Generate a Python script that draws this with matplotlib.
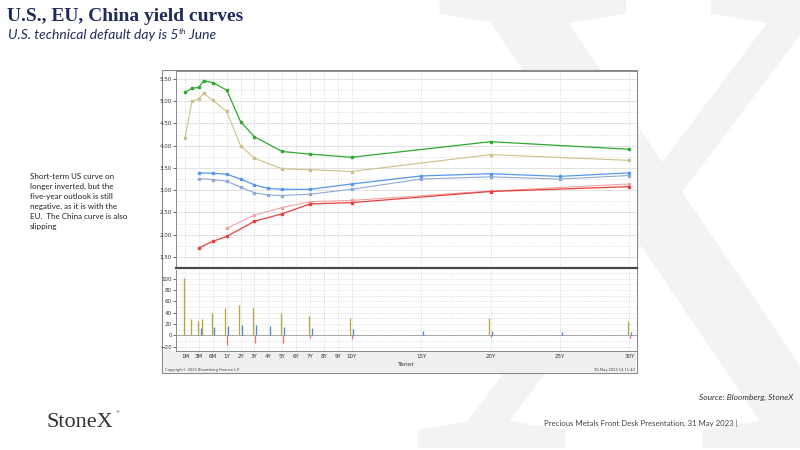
import numpy as np
import matplotlib
matplotlib.use('Agg')
import matplotlib.pyplot as plt
import matplotlib.transforms as mtransforms
from matplotlib.patches import Rectangle, PathPatch
from matplotlib.transforms import offset_copy
from matplotlib.textpath import TextPath
from matplotlib.font_manager import FontProperties
from matplotlib.ticker import FormatStrFormatter

# tenor axis
tenor_labels = ['1M', '3M', '6M', '1Y', '2Y', '3Y', '4Y', '5Y', '6Y', '7Y', '8Y', '9Y', '10Y',
                '15Y', '20Y', '25Y', '30Y']
tenor_years = [1/12, 3/12, 6/12, 1, 2, 3, 4, 5, 6, 7, 8, 9, 10, 15, 20, 25, 30]

# yield curves (%)
us_years = [1/12, 2/12, 3/12, 4/12, 6/12, 1, 2, 3, 5, 7, 10, 20, 30]
us_now = [5.20, 5.29, 5.31, 5.46, 5.42, 5.25, 4.54, 4.20, 3.87, 3.81, 3.74, 4.09, 3.92]
us_prev = [4.18, 5.00, 5.06, 5.18, 5.02, 4.77, 4.00, 3.72, 3.48, 3.46, 3.42, 3.80, 3.67]

eu_years = [3/12, 6/12, 1, 2, 3, 4, 5, 7, 10, 15, 20, 25, 30]
eu_now = [3.39, 3.38, 3.36, 3.25, 3.12, 3.04, 3.02, 3.02, 3.14, 3.32, 3.37, 3.31, 3.39]
eu_prev = [3.26, 3.24, 3.20, 3.07, 2.94, 2.89, 2.88, 2.91, 3.02, 3.25, 3.30, 3.25, 3.33]

cn_years = [3/12, 6/12, 1, 3, 5, 7, 10, 20, 30]
cn_now = [1.70, 1.85, 1.96, 2.30, 2.47, 2.69, 2.72, 2.97, 3.08]
cn_prev_years = [1, 3, 5, 7, 10, 20, 30]
cn_prev = [2.14, 2.44, 2.61, 2.74, 2.77, 2.98, 3.14]

# changes (bp)
us_chg = [101, 29, 25, 29, 40, 48, 54, 48, 40, 34, 31, 30, 25]
eu_chg = [13, 14, 16, 18, 18, 17, 15, 13, 11, 8, 7, 6, 6]
cn_chg = [-17, -14, -14, -5, -6, -2, -5]

side_note = ("Short-term US curve on\nlonger inverted, but the\nfive-year outlook is still\n"
             "negative, as it is with the\nEU.  The China curve is also\nslipping")

navy = '#1f2b5b'
W, H = 800, 450

def fx(px):
    return px / W

def fy(py):
    return 1 - py / H

# piecewise tenor scale: ticks evenly spaced up to 10Y, then 5 slots per 5 years
brk_years = np.array([-1/12] + tenor_years + [35])
brk_idx = np.array([-1] + list(range(13)) + [17, 22, 27, 32, 33], dtype=float)

def fwd(v):
    return np.interp(v, brk_years, brk_idx)

def inv(v):
    return np.interp(v, brk_idx, brk_years)

fig = plt.figure(figsize=(8, 4.5), dpi=100)

# watermark X (glyph outline placed in slide pixels)
tp = TextPath((0, 0), 'X', size=1, prop=FontProperties(family='Liberation Serif'))
ext = tp.get_extents()
s = 452 / ext.height
xtrans = (mtransforms.Affine2D().translate(-ext.x0, -ext.y0).scale(s, -s)
          .translate(418, 448).scale(1 / W, -1 / H).translate(0, 1) + fig.transFigure)
fig.add_artist(PathPatch(tp, transform=xtrans, facecolor='#f2f3f5', edgecolor='none',
                         zorder=0))

# titles
fig.text(fx(7), fy(21), 'U.S., EU, China yield curves', family='Liberation Serif',
         fontweight='bold', fontsize=14, color=navy)
sub = fig.text(fx(8), fy(39), 'U.S. technical default day is 5', family='Lato',
               style='italic', fontsize=10, color=navy)
fig.canvas.draw()
bb = sub.get_window_extent()
sup = fig.text(bb.x1 / W, fy(34), 'th', family='Lato', style='italic', fontsize=6,
               color=navy)
fig.canvas.draw()
bb2 = sup.get_window_extent()
fig.text(bb2.x1 / W, fy(39), ' June', family='Lato', style='italic', fontsize=10,
         color=navy)

fig.text(fx(30), fy(173), side_note, family='Lato', fontsize=5.8, color='#222222',
         va='top', linespacing=1.5)

fig.text(fx(793), fy(400), 'Source: Bloomberg, StoneX', family='Lato', style='italic',
         fontsize=6, color='#333333', ha='right')
fig.text(fx(544), fy(426), 'Precious Metals Front Desk Presentation, 31 May 2023 |',
         family='Lato', fontsize=5.6, color='#444444')
fig.text(fx(47), fy(427), 'StoneX', family='Liberation Serif', fontsize=16,
         color='#333333')
fig.text(fx(115), fy(413), '®', family='DejaVu Sans', fontsize=3, color='#333333')

# chart frame
fig.add_artist(Rectangle((fx(162), fy(373)), (637 - 162) / W, (373 - 70) / H,
                         transform=fig.transFigure, facecolor='white',
                         edgecolor='#8a8a8a', lw=0.8, zorder=1))
fig.add_artist(Rectangle((fx(163), fy(372.5)), (636 - 163) / W, (372.5 - 351) / H,
                         transform=fig.transFigure, facecolor='#efefef',
                         edgecolor='none', zorder=1))

ax1 = fig.add_axes([fx(176), fy(268), (637 - 176) / W, (268 - 71) / H])
ax2 = fig.add_axes([fx(176), fy(351), (637 - 176) / W, (351 - 270) / H], sharex=ax1)
for ax in (ax1, ax2):
    ax.set_facecolor('white')
    ax.set_zorder(2)
    for sp in ax.spines.values():
        sp.set_color('#8a8a8a')
        sp.set_linewidth(0.7)
ax1.spines['bottom'].set_color('#4a4a4a')
ax1.spines['bottom'].set_linewidth(1.6)
ax2.spines['top'].set_visible(False)

ax1.set_xscale('function', functions=(fwd, inv))
ax1.set_xlim(inv(-0.65), inv(32.55))

# top panel: yield curves
ax1.plot(us_years, us_prev, color='#cbc08a', lw=0.8, marker='s', ms=1.6, zorder=3)
ax1.plot(us_years, us_now, color='#2eaa30', lw=0.9, marker='s', ms=2, zorder=4)
ax1.plot(eu_years, eu_prev, color='#8eaad4', lw=0.8, marker='s', ms=1.6, zorder=3)
ax1.plot(eu_years, eu_now, color='#5597ee', lw=0.9, marker='s', ms=2, zorder=4)
ax1.plot(cn_prev_years, cn_prev, color='#f0a4a4', lw=0.8, marker='s', ms=1.6, zorder=3)
ax1.plot(cn_years, cn_now, color='#e8403f', lw=0.9, marker='s', ms=2, zorder=4)

ax1.set_ylim(1.36, 5.68)
ax1.set_yticks(np.arange(1.5, 5.51, 0.5))
ax1.set_yticks(np.arange(1.25, 5.6, 0.25), minor=True)
ax1.yaxis.set_major_formatter(FormatStrFormatter('%.2f'))
ax1.grid(axis='y', which='major', color='#dddddd', lw=0.6)
ax1.grid(axis='y', which='minor', color='#cfcfcf', lw=0.5, ls=(0, (1, 1.5)))
ax1.grid(axis='x', which='major', color='#d6d6d6', lw=0.5, ls=(0, (2.5, 2)))
ax1.tick_params(axis='x', which='both', length=0, labelbottom=False)

# bottom panel: change bars
pad = dict(fig=fig, units='dots')
ax2.vlines(us_years, 0, us_chg, color='#b5a845', lw=0.95,
           transform=offset_copy(ax2.transData, x=-1.2, **pad), zorder=3)
ax2.vlines(cn_prev_years, 0, cn_chg, color='#e9706f', lw=0.95,
           transform=offset_copy(ax2.transData, x=0.3, **pad), zorder=3)
ax2.vlines(eu_years, 0, eu_chg, color='#4f86d6', lw=0.95,
           transform=offset_copy(ax2.transData, x=1.7, **pad), zorder=3)
ax2.axhline(0, color='#9a9a9a', lw=0.6, zorder=2)

ax2.set_ylim(-27.5, 115)
ax2.set_yticks(np.arange(-20, 101, 20))
ax2.set_yticks(np.arange(-20, 111, 10), minor=True)
ax2.grid(axis='y', which='both', color='#cfcfcf', lw=0.5, ls=(0, (1, 1.5)))
ax2.grid(axis='x', which='major', color='#d6d6d6', lw=0.5, ls=(0, (2.5, 2)))
ax2.set_xticks(tenor_years, tenor_labels)
ax2.set_xticks([], minor=True)

for ax in (ax1, ax2):
    ax.tick_params(axis='y', which='major', length=2, width=0.5, pad=1, labelsize=4,
                   colors='#333333')
    ax.tick_params(axis='y', which='minor', length=0)
ax2.tick_params(axis='x', which='major', length=0, pad=2, labelsize=4, colors='#333333')

fig.text(fx(407), fy(366.5), 'Tenor', family='DejaVu Sans', fontsize=4.5, color='#333333',
         ha='center', zorder=3)
fig.text(fx(165), fy(371), 'Copyright\u00a9 2023 Bloomberg Finance L.P.', family='DejaVu Sans',
         fontsize=2.6, color='#444444', zorder=3)
fig.text(fx(635), fy(371), '30-May-2023 14:11:42', family='DejaVu Sans', fontsize=2.6,
         color='#444444', ha='right', zorder=3)

fig.savefig('out.png', dpi=100)
